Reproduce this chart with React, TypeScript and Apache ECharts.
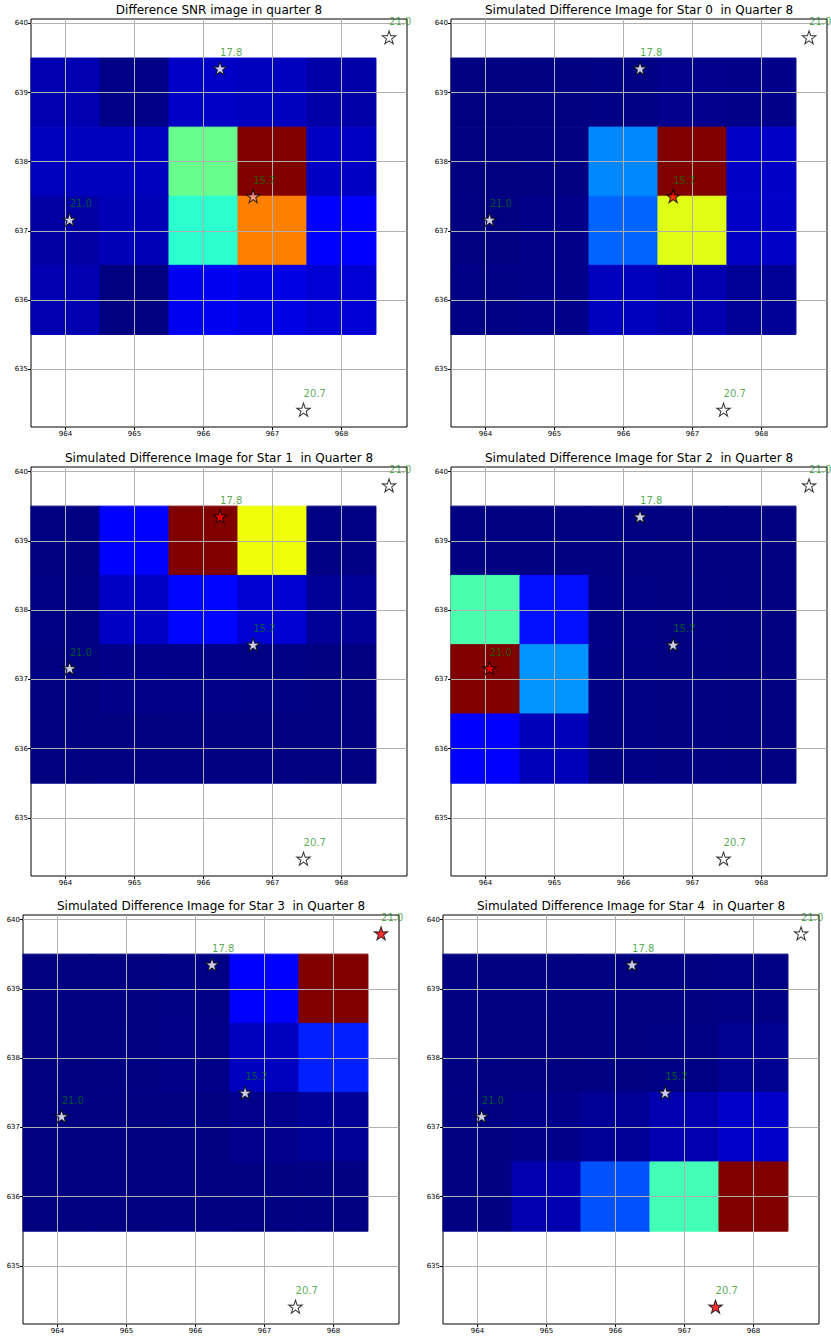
import React, { useEffect, useRef } from "react";
import * as echarts from "echarts";

// ---- data ----
const pixelCols = [964, 965, 966, 967, 968];
const pixelRows = [639, 638, 637, 636];
const tickX = [964, 965, 966, 967, 968];
const tickY = [635, 636, 637, 638, 639, 640];

const panelTitles = [
  "Difference SNR image in quarter 8",
  "Simulated Difference Image for Star 0  in Quarter 8",
  "Simulated Difference Image for Star 1  in Quarter 8",
  "Simulated Difference Image for Star 2  in Quarter 8",
  "Simulated Difference Image for Star 3  in Quarter 8",
  "Simulated Difference Image for Star 4  in Quarter 8",
];

// normalised image values, rows top (639) to bottom (636), columns 964..968
const snrImage = [
  [0.042, 0.007, 0.062, 0.055, 0.035],
  [0.055, 0.055, 0.478, 1.0, 0.058],
  [0.031, 0.048, 0.401, 0.774, 0.115],
  [0.042, 0.0, 0.1, 0.087, 0.073],
];
const star0Image = [
  [0.0, 0.002, 0.004, 0.012, 0.01],
  [0.0, 0.003, 0.258, 1.0, 0.062],
  [0.001, 0.008, 0.223, 0.622, 0.062],
  [0.004, 0.01, 0.055, 0.042, 0.02],
];
const star1Image = [
  [0.003, 0.12, 1.0, 0.639, 0.004],
  [0.004, 0.06, 0.13, 0.07, 0.02],
  [0.002, 0.01, 0.007, 0.004, 0.0],
  [0.0, 0.001, 0.001, 0.001, 0.0],
];
const star2Image = [
  [0.003, 0.003, 0.002, 0.001, 0.001],
  [0.44, 0.14, 0.004, 0.002, 0.001],
  [1.0, 0.27, 0.004, 0.002, 0.001],
  [0.12, 0.05, 0.006, 0.003, 0.001],
];
const star3Image = [
  [0.0, 0.001, 0.006, 0.12, 1.0],
  [0.0, 0.002, 0.008, 0.055, 0.156],
  [0.0, 0.001, 0.002, 0.012, 0.02],
  [0.0, 0.0, 0.001, 0.002, 0.002],
];
const star4Image = [
  [0.002, 0.002, 0.002, 0.003, 0.004],
  [0.003, 0.001, 0.003, 0.005, 0.015],
  [0.002, 0.01, 0.02, 0.04, 0.065],
  [0.003, 0.04, 0.204, 0.43, 1.0],
];
const panelImages = [snrImage, star0Image, star1Image, star2Image, star3Image, star4Image];

const starCol = [966.72, 966.24, 964.06, 968.69, 967.45];
const starRow = [637.5, 639.35, 637.16, 639.8, 634.41];
const starMag = ["15.7", "17.8", "21.0", "21.0", "20.7"];
// highlighted star per panel (panel 0 = SNR image)
const panelTarget = [0, 0, 1, 2, 3, 4];

// ---- layout / style ----
const xMin = 963.5;
const xMax = 968.95;
const yMin = 634.16;
const yMax = 640.065;
const grids = [
  { left: 31, top: 19, width: 376, height: 408 },
  { left: 451, top: 19, width: 376, height: 408 },
  { left: 31, top: 467, width: 376, height: 409 },
  { left: 451, top: 467, width: 376, height: 409 },
  { left: 23, top: 915, width: 376, height: 409 },
  { left: 443, top: 915, width: 376, height: 409 },
];
const FONT = "DejaVu Sans";
const STAR_PATH =
  "path://M50,0 L61.8,35.1 L98.1,34.5 L68.7,56.1 L79.4,90.5 L50,69.5 L20.6,90.5 L31.3,56.1 L1.9,34.5 L38.2,35.1 Z";

function interp(v: number, pts: number[][]) {
  if (v <= pts[0][0]) return pts[0][1];
  for (let i = 1; i < pts.length; i++) {
    if (v <= pts[i][0]) {
      const [x0, y0] = pts[i - 1];
      const [x1, y1] = pts[i];
      return y0 + ((v - x0) / (x1 - x0)) * (y1 - y0);
    }
  }
  return pts[pts.length - 1][1];
}
function jet(v: number) {
  const r = interp(v, [[0, 0], [0.35, 0], [0.66, 1], [0.89, 1], [1, 0.5]]);
  const g = interp(v, [[0, 0], [0.125, 0], [0.375, 1], [0.64, 1], [0.91, 0], [1, 0]]);
  const b = interp(v, [[0, 0.5], [0.11, 1], [0.34, 1], [0.65, 0], [1, 0]]);
  return `rgb(${Math.round(r * 255)},${Math.round(g * 255)},${Math.round(b * 255)})`;
}

export default function App() {
  const ref = useRef<HTMLDivElement>(null);
  useEffect(() => {
    if (!ref.current) return;
    const chart = echarts.init(ref.current, undefined, { renderer: "svg" });
    const xAxes: any[] = [];
    const yAxes: any[] = [];
    const series: any[] = [];
    const titles: any[] = [];
    const gridOpts: any[] = [];
    grids.forEach((g, i) => {
      gridOpts.push({
        ...g,
        show: true,
        borderColor: "#000",
        borderWidth: 1,
        backgroundColor: "transparent",
      });
      titles.push({
        text: panelTitles[i],
        left: g.left + g.width / 2,
        top: g.top - 9,
        textAlign: "center",
        textVerticalAlign: "middle",
        padding: 0,
        textStyle: { fontFamily: FONT, fontSize: 12, fontWeight: "normal", color: "#000" },
      });
      const axisCommon = {
        type: "value",
        gridIndex: i,
        z: 3,
        axisLine: { show: false },
        axisTick: { show: true, length: 3, lineStyle: { color: "#000", width: 1 } },
        axisLabel: { fontFamily: FONT, fontSize: 7, color: "#000", margin: 3 },
        splitLine: { show: true, lineStyle: { color: "#b0b0b0", width: 1 } },
      };
      xAxes.push({
        ...axisCommon,
        min: xMin,
        max: xMax,
        axisTick: { ...axisCommon.axisTick, customValues: tickX },
        axisLabel: { ...axisCommon.axisLabel, customValues: tickX },
      });
      yAxes.push({
        ...axisCommon,
        min: yMin,
        max: yMax,
        axisTick: { ...axisCommon.axisTick, customValues: tickY },
        axisLabel: { ...axisCommon.axisLabel, customValues: tickY },
      });
      const img = panelImages[i];
      const cells: number[][] = [];
      pixelRows.forEach((row, r) => {
        pixelCols.forEach((col, c) => {
          cells.push([col, row, img[r][c]]);
        });
      });
      series.push({
        type: "custom",
        xAxisIndex: i,
        yAxisIndex: i,
        z: 1,
        silent: true,
        data: cells,
        encode: { x: 0, y: 1 },
        renderItem: (params: any, api: any) => {
          const x = api.value(0);
          const y = api.value(1);
          const v = api.value(2);
          const p0 = api.coord([x - 0.5, y + 0.5]);
          const p1 = api.coord([x + 0.5, y - 0.5]);
          const c = jet(v);
          return {
            type: "rect",
            shape: { x: p0[0], y: p0[1], width: p1[0] - p0[0], height: p1[1] - p0[1] },
            style: { fill: c, stroke: c, lineWidth: 1 },
          };
        },
      });
      const target = panelTarget[i];
      series.push({
        type: "scatter",
        xAxisIndex: i,
        yAxisIndex: i,
        z: 5,
        silent: true,
        symbol: STAR_PATH,
        symbolSize: [13.5, 13],
        data: starCol.map((x, k) => ({
          value: [x, starRow[k]],
          name: starMag[k],
          itemStyle: {
            color: k === target ? (i === 0 ? "#f2a0a0" : "#ff0000") : "#ffffff",
            borderColor: "#000",
            borderWidth: 1,
          },
        })),
        label: {
          show: true,
          formatter: "{b}",
          position: "inside",
          align: "left",
          verticalAlign: "bottom",
          offset: [0, -11],
          fontFamily: FONT,
          fontSize: 10,
          color: "rgba(0,128,0,0.85)",
        },
      });
    });
    chart.setOption({
      animation: false,
      backgroundColor: "#fff",
      title: titles,
      grid: gridOpts,
      xAxis: xAxes,
      yAxis: yAxes,
      series,
    });
    return () => chart.dispose();
  }, []);
  return (
    <div
      ref={ref}
      style={{ position: "absolute", left: 0, top: 0, width: 831, height: 1339 }}
    />
  );
}
